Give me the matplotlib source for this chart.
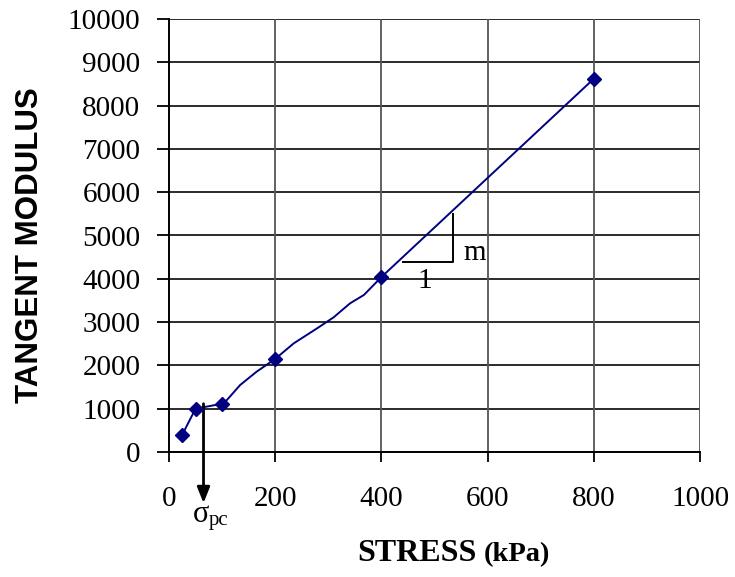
import matplotlib
matplotlib.use("Agg")
import matplotlib.pyplot as plt

# Data
stress_pts = [25, 50, 100, 200, 400, 800]
modulus_pts = [400, 1000, 1115, 2150, 4040, 8620]
# smooth connecting curve
curve_x = [25, 50, 100, 109, 134, 165, 200, 235, 279, 310, 341, 367, 400, 800]
curve_y = [400, 1000, 1115, 1200, 1547, 1855, 2150, 2510, 2857, 3110, 3434, 3626, 4040, 8620]
x_ticks = [0, 200, 400, 600, 800, 1000]
y_ticks = list(range(0, 10001, 1000))
sigma_pc = 65

W, H = 735, 577
fig = plt.figure(figsize=(W / 100, H / 100), dpi=100)
ax = fig.add_axes([169 / W, 1 - 452 / H, (700 - 169) / W, (452 - 19) / H])

serif = "Liberation Serif"
ax.set_xlim(0, 1000)
ax.set_ylim(0, 10000)
ax.set_xticks(x_ticks)
ax.set_yticks(y_ticks)
ax.set_xticklabels([str(v) for v in x_ticks], fontfamily=serif, fontsize=21)
ax.set_yticklabels([str(v) for v in y_ticks], fontfamily=serif, fontsize=21)
ax.tick_params(axis="y", direction="out", length=8.6, width=1.3, color="black", pad=12)
ax.tick_params(axis="x", direction="out", length=7.5, width=1.3, color="black", pad=17)

for v in y_ticks:
    ax.axhline(v, color="#1a1a1a", lw=1.3, zorder=1)
for v in x_ticks[1:]:
    ax.axvline(v, color="#555555", lw=1.3, zorder=1)
for s in ["top", "right"]:
    ax.spines[s].set_visible(False)
ax.spines["left"].set_color("black")
ax.spines["left"].set_linewidth(1.4)
ax.spines["bottom"].set_color("black")
ax.spines["bottom"].set_linewidth(1.4)

ax.plot(curve_x, curve_y, color="#000080", lw=1.4, zorder=3)
ax.plot(stress_pts, modulus_pts, linestyle="none", marker="D", markersize=7,
        color="#000080", zorder=4)

# sigma_pc arrow
ax.annotate("", xy=(sigma_pc, -1180), xytext=(sigma_pc, 1115),
            xycoords="data", textcoords="data", annotation_clip=False,
            arrowprops=dict(arrowstyle="-|>,head_width=0.38,head_length=0.95",
                            color="black", lw=2.0, shrinkA=0, shrinkB=0))
fig.text(193 / W, 1 - 514 / H, "σ", fontfamily=serif, fontsize=22, ha="left", va="center")
fig.text(209 / W, 1 - 521 / H, "pc", fontfamily=serif, fontsize=15, ha="left", va="center")

# slope triangle
ax.plot([441, 534, 534], [4390, 4390, 5500], color="black", lw=1.4, zorder=3)
ax.text(576, 4600, "m", fontfamily=serif, fontsize=21, ha="center", va="center")
ax.text(482, 3940, "1", fontfamily=serif, fontsize=21, ha="center", va="center")

# axis labels
fig.text(30 / W, 1 - 245 / H, "TANGENT MODULUS", fontfamily="Liberation Sans",
         fontweight="bold", fontsize=22.5, rotation=90, ha="center", va="center")
fig.text(477 / W, 1 - 561 / H, "STRESS", fontfamily=serif, fontweight="bold",
         fontsize=23, ha="right", va="baseline")
fig.text(484 / W, 1 - 561 / H, "(kPa)", fontfamily=serif, fontweight="bold",
         fontsize=20.5, ha="left", va="baseline")

fig.savefig("out.png", dpi=100)
